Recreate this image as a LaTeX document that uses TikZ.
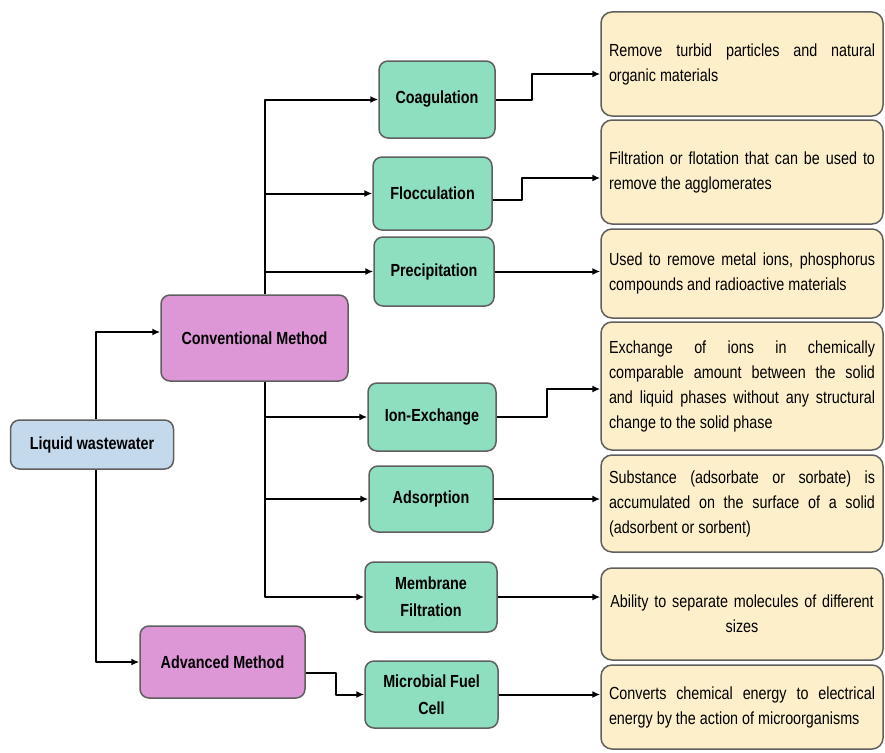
\documentclass[tikz,border=0pt]{standalone}
\usepackage{fontspec}
\setmainfont{Liberation Sans}[FakeStretch=0.82]
\usetikzlibrary{arrows.meta}
\definecolor{wastebl}{RGB}{197,217,236}
\definecolor{methpk}{RGB}{221,150,214}
\definecolor{procgr}{RGB}{142,222,192}
\definecolor{descyl}{RGB}{253,239,201}
\definecolor{edgegr}{RGB}{95,95,95}
\tikzset{
  box/.style={draw=edgegr, line width=1.5pt, rounded corners=9pt, inner sep=0pt, align=center, font=\fontsize{17.5pt}{27pt}\selectfont\bfseries},
  waste/.style={box, fill=wastebl},
  meth/.style={box, fill=methpk},
  proc/.style={box, fill=procgr},
  desc/.style={draw=edgegr, line width=1.5pt, rounded corners=11pt, fill=descyl, inner xsep=8pt, inner ysep=0pt, text width=266pt, align=justify},
  link/.style={line width=2pt, ->}
}
\begin{document}
\begin{tikzpicture}[x=1pt, y=-1pt, font=\fontsize{17.5pt}{25pt}\selectfont, line join=round, >={Latex[length=8pt,width=7pt]}]
  \useasboundingbox (0,0) rectangle (885,752);
  \def\xtrunk{265} \def\xdesc{742} % Hilfswerte
  % Quelle und Methoden
  \node[waste, minimum width=163pt, minimum height=49pt] (liquid) at (92,444.5) {Liquid wastewater};
  \node[meth, minimum width=187pt, minimum height=86pt] (conv) at (254.5,338) {Conventional Method};
  \node[meth, minimum width=165pt, minimum height=72pt] (adv) at (222.5,662) {Advanced Method};
  % Verfahren
  \node[proc, minimum width=116pt, minimum height=77pt] (coag) at (437,99.5) {Coagulation};
  \node[proc, minimum width=119pt, minimum height=73pt] (flocc) at (432.5,193.5) {Flocculation};
  \node[proc, minimum width=120pt, minimum height=69pt] (precip) at (434,271.5) {Precipitation};
  \node[proc, minimum width=128pt, minimum height=68pt] (ion) at (432,417) {Ion-Exchange};
  \node[proc, minimum width=124pt, minimum height=66pt] (ads) at (431,499) {Adsorption};
  \node[proc, minimum width=132pt, minimum height=70pt] (membr) at (431,597) {Membrane\\Filtration};
  \node[proc, minimum width=133pt, minimum height=67pt] (microb) at (431.5,694.5) {Microbial Fuel\\Cell};
  % Beschreibungen
  \node[desc, minimum height=104pt] (coagd) at (\xdesc,64) {Remove turbid particles and natural\linebreak organic materials};
  \node[desc, minimum height=104pt] (floccd) at (\xdesc,172) {Filtration or flotation that can be used to\linebreak remove the agglomerates};
  \node[desc, minimum height=89pt] (precd) at (\xdesc,273.5) {Used to remove metal ions, phosphorus\linebreak compounds and radioactive materials};
  \node[desc, minimum height=128pt] (iond) at (\xdesc,386) {Exchange of ions in chemically\linebreak comparable amount between the solid\linebreak and liquid phases without any structural\linebreak change to the solid phase};
  \node[desc, minimum height=97pt] (adsd) at (\xdesc,503.5) {Substance (adsorbate or sorbate) is\linebreak accumulated on the surface of a solid\linebreak (adsorbent or sorbent)};
  \node[desc, minimum height=92pt, align=center] (membrd) at (\xdesc,614) {Ability to separate molecules of different\\sizes};
  \node[desc, minimum height=84pt] (microbd) at (\xdesc,707) {Converts chemical energy to electrical\linebreak energy by the action of microorganisms};
  \coordinate (trunk) at (\xtrunk,0);
  % Verbindungen
  \draw[link] ([xshift=4pt]liquid.north) |- ([yshift=6pt]conv.west);
  \draw[link] ([xshift=4pt]liquid.south) |- (adv.west);
  \draw[link] (conv.north -| trunk) |- (coag.west);
  \draw[link] (trunk |- flocc.west) -- (flocc.west);
  \draw[link] (trunk |- precip.west) -- (precip.west);
  \draw[link] (conv.south -| trunk) |- (membr.west);
  \draw[link] (trunk |- ion.west) -- (ion.west);
  \draw[link] (trunk |- ads.west) -- (ads.west);
  \draw[link] ([yshift=-11pt]adv.east) -- ++(30,0) |- (microb.west);
  \draw[link] (coag.east) -- ++(36,0) |- ([yshift=-10pt]coagd.west);
  \draw[link] ([yshift=-6pt]flocc.east) -- ++(29,0) |- ([yshift=-6pt]floccd.west);
  \draw[link] (precip.east) -- (precip.east -| precd.west);
  \draw[link] (ion.east) -- ++(50,0) |- ([yshift=-3pt]iond.west);
  \draw[link] (ads.east) -- (ads.east -| adsd.west);
  \draw[link] (membr.east) -- (membr.east -| membrd.west);
  \draw[link] (microb.east) -- (microb.east -| microbd.west);
\end{tikzpicture}
\end{document}
